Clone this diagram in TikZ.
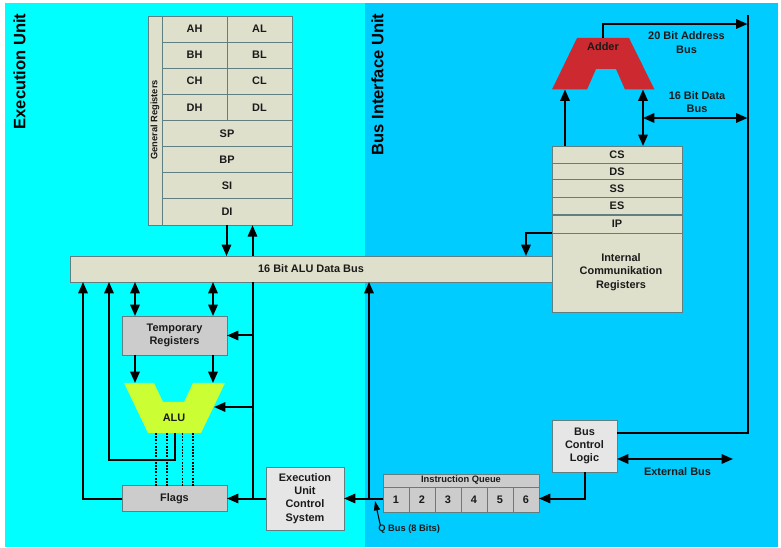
\documentclass[tikz,border=0pt]{standalone}
\usepackage{fontspec}
\setmainfont{Liberation Sans}
\usetikzlibrary{arrows.meta,calc}
\definecolor{cyanbg}{HTML}{00FFFF}
\definecolor{bluebg}{HTML}{00CCFF}
\definecolor{cream}{HTML}{DFE0CC}
\definecolor{midgray}{HTML}{CCCCCC}
\definecolor{lightgray}{HTML}{E6E6E6}
\definecolor{edgecol}{HTML}{5F7F80}
\definecolor{alucol}{HTML}{CCFF33}
\definecolor{addercol}{HTML}{CC2A30}
\definecolor{inkcol}{HTML}{1A1A1A}
\tikzset{
  x=0.75pt,y=-0.75pt,
  lbl/.style={font=\bfseries\fontsize{8.2}{9.9}\selectfont,text=inkcol,align=center,inner sep=0pt},
  smalllbl/.style={font=\bfseries\fontsize{7}{8.5}\selectfont,text=inkcol,align=center,inner sep=0pt},
  unitlbl/.style={font=\bfseries\fontsize{12.4}{14}\selectfont,text=black,inner sep=0pt,rotate=90},
  boxbase/.style={draw=edgecol,line width=0.65pt,inner sep=0pt,outer sep=0pt,lbl},
  creambox/.style={boxbase,fill=cream},
  graybox/.style={boxbase,fill=midgray},
  lightbox/.style={boxbase,fill=lightgray},
  wire/.style={draw=black,line width=1.5pt},
  arrowwire/.style={wire,-{Triangle[length=8.5pt,width=7pt]}},
  dblwire/.style={wire,{Triangle[length=8.5pt,width=7pt]}-{Triangle[length=8.5pt,width=7pt]}},
  thinarrow/.style={draw=black,line width=0.8pt,-{Triangle[length=7pt,width=4.5pt]}},
  dotwire/.style={draw=black,line width=0.85pt,dash pattern=on 1.4pt off 1pt},
}
\newcommand{\bx}[7][]{%
  \node[#2,minimum width={(#5)*0.75pt},minimum height={(#6)*0.75pt},#1] (#3) at (#4) {#7};}
\begin{document}
\begin{tikzpicture}
\useasboundingbox (0,0) rectangle (781,548);
\fill[white] (0,0) rectangle (781,548);
\fill[cyanbg] (5,3) rectangle (365,547);
\fill[bluebg] (365,3) rectangle (778,547);

\node[unitlbl] (euLabel) at (19.5,71.5) {Execution Unit};
\node[unitlbl] (biuLabel) at (377.5,84.5) {Bus Interface Unit};

% ALU data bus
\bx{creambox}{bus}{311,269}{482}{26}{16 Bit ALU Data Bus}

% General registers
\bx{creambox}{grStrip}{155,120.5}{14}{209}{}
\node[smalllbl,rotate=90] (grLabel) at (155,120) {General Registers};
\bx{creambox}{ah}{194.5,29}{65}{26}{AH}
\bx{creambox}{al}{259.5,29}{65}{26}{AL}
\bx{creambox}{bh}{194.5,55}{65}{26}{BH}
\bx{creambox}{bl}{259.5,55}{65}{26}{BL}
\bx{creambox}{ch}{194.5,81.2}{65}{26}{CH}
\bx{creambox}{cl}{259.5,81.2}{65}{26}{CL}
\bx{creambox}{dh}{194.5,107.3}{65}{26}{DH}
\bx{creambox}{dl}{259.5,107.3}{65}{26}{DL}
\bx{creambox}{sp}{227,133.4}{130}{26.1}{SP}
\bx{creambox}{bp}{227,159.5}{130}{26.1}{BP}
\bx{creambox}{si}{227,185.6}{130}{26.1}{SI}
\bx{creambox}{di}{227,212}{130}{26.4}{DI}

% Segment registers
\bx{creambox}{cs}{617,154.5}{130}{17}{CS}
\bx{creambox}{ds}{617,171.3}{130}{16.6}{DS}
\bx{creambox}{ss}{617,188.5}{130}{18}{SS}
\bx{creambox}{es}{617,206.2}{130}{17.4}{ES}
\bx{creambox}{ip}{617,224}{130}{18}{IP}
\bx{creambox}{icr}{617,272.5}{130}{79}{}
\node[lbl] (icrLabel) at (621,272) {Internal\\Communikation\\Registers};

% EU boxes
\bx{graybox}{temp}{174.5,335.5}{105}{39}{Temporary\\Registers}
\bx{graybox}{flags}{174.5,498.5}{105}{26}{Flags}
\bx{lightbox}{exec}{305,498.5}{78}{63}{Execution\\Unit\\Control\\System}

% Instruction queue
\bx{graybox}{iqHead}{461,480.5}{156}{13}{}
\node[smalllbl] (iqLabel) at (461,480.5) {Instruction Queue};
\bx{graybox}{qa}{396,499.5}{26}{25}{1}
\bx{graybox}{qb}{422,499.5}{26}{25}{2}
\bx{graybox}{qc}{448,499.5}{26}{25}{3}
\bx{graybox}{qd}{474,499.5}{26}{25}{4}
\bx{graybox}{qe}{500,499.5}{26}{25}{5}
\bx{graybox}{qf}{526,499.5}{26}{25}{6}

% Bus control
\bx{lightbox}{bcl}{584.5,446}{65}{52}{Bus\\Control\\Logic}

% ALU and adder
\fill[alucol] (124,383) -- (154,383) -- (163,402) -- (184,402) -- (193,383) -- (225,383) -- (201,433) -- (148,433) -- cycle;
\node[lbl] (aluLabel) at (174,418) {ALU};
\fill[addercol] (577,38) -- (629,38) -- (654.5,89.5) -- (625,89.5) -- (616,69) -- (596,69) -- (587,89.5) -- (552,89.5) -- cycle;
\node[lbl] (adderLabel) at (603,47) {Adder};

% Named connector anchors
\coordinate (aluInA) at (135,383);
\coordinate (aluInB) at (213,383);
\coordinate (aluSide) at (214,407);
\coordinate (aluOut) at (174.5,433);
\coordinate (aluTurn) at (174.5,460);
\coordinate (aluTurnL) at (109,460);
\coordinate (xFlagsUp) at (83,400);
\coordinate (xAluUp) at (109,400);
\coordinate (xGrDown) at (226.5,240);
\coordinate (xCtl) at (252.5,300);
\coordinate (xQ) at (369,400);
\coordinate (xIp) at (526,240);
\coordinate (adderInL) at (565,89.5);
\coordinate (adderInR) at (643,89.5);
\coordinate (adderTop) at (603,38);
\coordinate (adderRise) at (603,24);
\coordinate (dataJoin) at (643,118);
\coordinate (addrTop) at (747.5,15);
\coordinate (addrHit) at (747.5,24);
\coordinate (dataHit) at (747.5,118);
\coordinate (addrCorner) at (747.5,433);
\coordinate (bclOut) at (617,433);
\coordinate (extL) at (617,459);
\coordinate (extR) at (733,459);
\coordinate (qTurn) at (584.5,498.5);
\coordinate (qTail) at (380.5,526);
\coordinate (qTip) at (375,501);
\coordinate (xInA) at (135,300);
\coordinate (xInB) at (213,300);

% EU connectors
\path[arrowwire] (xGrDown |- di.south) -- (xGrDown |- bus.north);
\path[arrowwire] (xCtl |- bus.north) -- (xCtl |- di.south);
\path[wire] (xCtl |- exec.west) -- (xCtl |- bus.south);
\path[arrowwire] (xCtl |- temp.east) -- (temp.east);
\path[arrowwire] (xCtl |- aluSide) -- (aluSide);
\path[arrowwire] (exec.west) -- (flags.east);
\path[arrowwire] (flags.west) -| (xFlagsUp |- bus.south);
\path[arrowwire] (aluOut) -- (aluTurn) -- (aluTurnL) -- (xAluUp |- bus.south);
\path[dblwire] (xInA |- bus.south) -- (xInA |- temp.north);
\path[dblwire] (xInB |- bus.south) -- (xInB |- temp.north);
\path[arrowwire] (xInA |- temp.south) -- (aluInA);
\path[arrowwire] (xInB |- temp.south) -- (aluInB);
\foreach \dx [count=\di] in {156,167,182.5,193}
  \coordinate (dot\di) at (\dx,433);
\foreach \di in {1,2,3,4}
  \path[dotwire] (dot\di) -- (dot\di |- flags.north);

% Queue connectors
\path[arrowwire] (qa.west |- exec.east) -- (exec.east);
\path[arrowwire] (xQ |- exec.east) -- (xQ |- bus.south);
\path[arrowwire] (bcl.south -| qTurn) -- (qTurn) -- (qf.east |- qTurn);
\path[thinarrow] (qTail) -- (qTip);
\node[smalllbl,anchor=west] (qLabel) at (378,529.5) {Q Bus (8 Bits)};

% BIU connectors
\path[arrowwire] (ip.south west) -- (xIp |- ip.south) -- (xIp |- bus.north);
\path[arrowwire] (adderInL |- cs.north) -- (adderInL);
\path[dblwire] (adderInR |- cs.north) -- (adderInR);
\path[dblwire] (dataJoin) -- (dataHit);
\path[arrowwire] (adderTop) -- (adderRise) -- (addrHit);
\path[wire] (addrTop) -- (addrCorner) -- (bclOut);
\path[dblwire] (extL) -- (extR);

\node[lbl] (addrLabel) at (686.5,42.5) {20 Bit Address\\Bus};
\node[lbl] (dataLabel) at (697,102) {16 Bit Data\\Bus};
\node[lbl] (extLabel) at (677.5,472) {External Bus};
\end{tikzpicture}
\end{document}
